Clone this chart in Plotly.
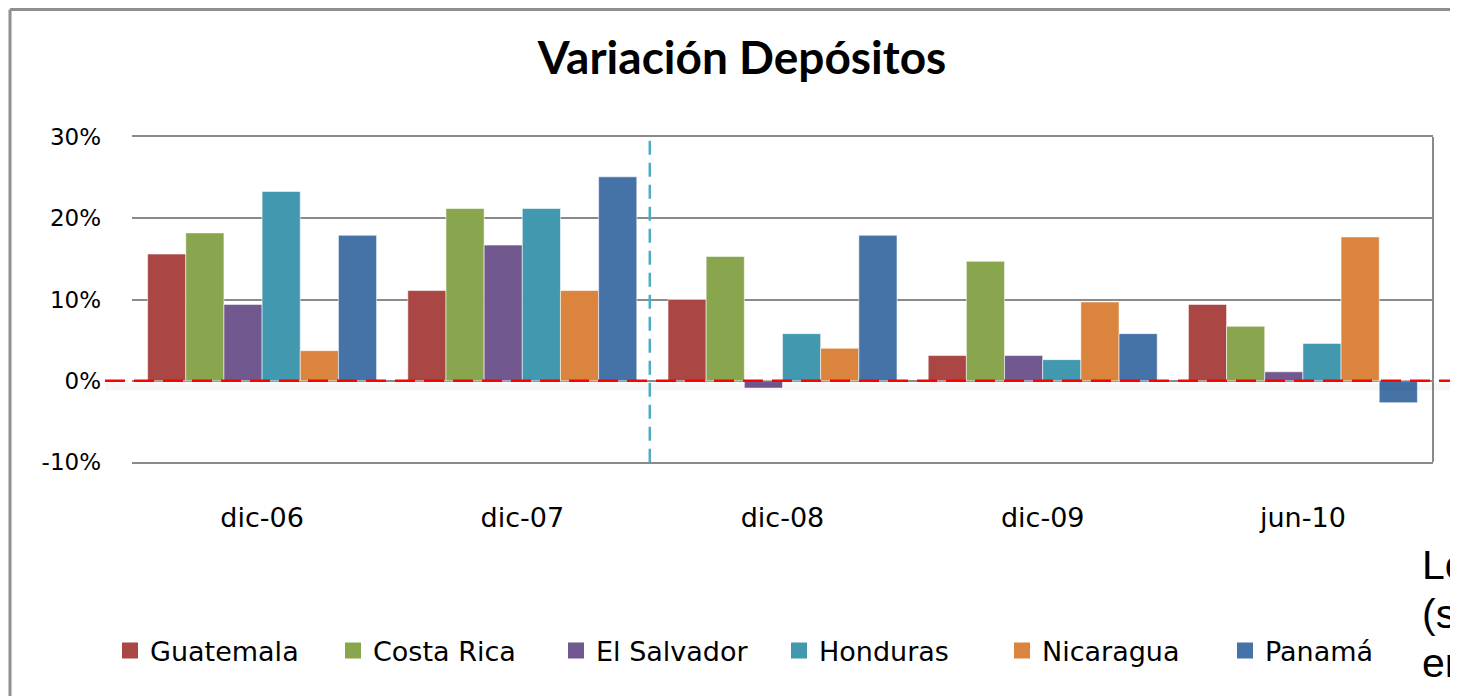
import plotly.graph_objects as go

categories = ["dic-06", "dic-07", "dic-08", "dic-09", "jun-10"]
series_names = ["Guatemala", "Costa Rica", "El Salvador", "Honduras", "Nicaragua", "Panamá"]
guatemala = [15.6, 11.1, 10.0, 3.1, 9.4]
costa_rica = [18.2, 21.2, 15.3, 14.7, 6.7]
el_salvador = [9.4, 16.7, -0.9, 3.1, 1.1]
honduras = [23.3, 21.2, 5.8, 2.6, 4.6]
nicaragua = [3.7, 11.1, 4.0, 9.7, 17.7]
panama = [17.9, 25.1, 17.9, 5.8, -2.7]
y_tick_values = [-10, 0, 10, 20, 30]
y_tick_labels = ["-10%", "0%", "10%", "20%", "30%"]
side_text = ["Lo", "(s", "er"]

series_values = [guatemala, costa_rica, el_salvador, honduras, nicaragua, panama]
colors = ["#AA4643", "#89A54E", "#71588F", "#4198AF", "#DB843D", "#4572A7"]

TITLE_FONT = "Lato"
FONT = "DejaVu Sans"
GRID = "#8a8a8a"

fig = go.Figure()
for name, vals, col in zip(series_names, series_values, colors):
    fig.add_trace(go.Bar(
        x=categories, y=vals, name=name, showlegend=False,
        marker=dict(color=col, line=dict(color="rgba(255,255,255,0.55)", width=1)),
    ))
# legend proxies (square swatches)
for name, col in zip(series_names, colors):
    fig.add_trace(go.Scatter(
        x=[None], y=[None], mode="markers", name=name,
        marker=dict(symbol="square", size=16, color=col),
    ))

W, H = 1458, 696
OFF = 8  # page body margin offset
# plot area in screen pixels: x 132..1433, y 137..462
L = 132 - OFF
T = 137 - OFF
pw = 1301
ph = 325
R = W - L - pw
B = H - T - ph

def px_x(p):
    return (p - 132) / pw

def px_y(p):
    return (462 - p) / ph

shapes = [
    # outer chart frame (left + top)
    dict(type="line", xref="paper", yref="paper", x0=px_x(10), x1=px_x(10), y0=px_y(9.5), y1=px_y(710),
         line=dict(color="#8f8f8f", width=3), layer="above"),
    dict(type="line", xref="paper", yref="paper", x0=px_x(10), x1=px_x(1470), y0=px_y(9.5), y1=px_y(9.5),
         line=dict(color="#8f8f8f", width=3), layer="above"),
    # right border of plot area
    dict(type="line", xref="paper", yref="y", x0=1, x1=1, y0=-10, y1=30,
         line=dict(color=GRID, width=2), layer="below"),
    # soft shadow under zero line
    dict(type="rect", xref="paper", yref="y", x0=px_x(105), x1=px_x(1470), y0=-0.3, y1=-1.2,
         fillcolor="rgba(0,0,0,0.035)", line=dict(width=0), layer="above"),
    # red dashed zero line
    dict(type="line", xref="paper", yref="y", x0=px_x(105), x1=px_x(1470), y0=0, y1=0,
         line=dict(color="#ff0000", width=2.5, dash="20px,9px"), layer="above"),
    # cyan dashed separator
    dict(type="line", xref="x", yref="y", x0=1.49, x1=1.49, y0=-10.1, y1=30.9,
         line=dict(color="#4BACC6", width=2.5, dash="14px,8px"), layer="above"),
]

annotations = []
for i, t in enumerate(side_text):
    annotations.append(dict(
        text=t, xref="paper", yref="paper", x=px_x(1420), y=px_y(565 + 49 * i),
        xanchor="left", yanchor="middle", showarrow=False,
        font=dict(family="Liberation Sans", size=41, color="#000000"),
    ))

fig.update_layout(
    width=W, height=H,
    margin=dict(l=L, r=R, t=T, b=B),
    paper_bgcolor="white", plot_bgcolor="white",
    title=dict(text="<b>Variación Depósitos</b>", x=(742 - OFF) / W, xanchor="center",
               y=1 - (58 - OFF) / H, yanchor="middle",
               font=dict(family=TITLE_FONT, size=46, color="#000000")),
    barmode="group", bargap=0.12, bargroupgap=0,
    shapes=shapes, annotations=annotations,
    legend=dict(orientation="h", x=px_x(110), xanchor="left", y=px_y(651), yanchor="middle",
                font=dict(family=FONT, size=27, color="#000000"),
                entrywidth=178, entrywidthmode="pixels", bgcolor="rgba(0,0,0,0)"),
    xaxis=dict(showgrid=False, showline=True, mirror=True, linecolor=GRID, linewidth=2,
               zeroline=False, ticks="",
               tickfont=dict(family=FONT, size=27, color="#000000"), ticklabelstandoff=31,
               fixedrange=True),
    yaxis=dict(range=[-10, 30], tickvals=y_tick_values, ticktext=y_tick_labels,
               showgrid=True, gridcolor=GRID, gridwidth=2,
               zeroline=True, zerolinecolor=GRID, zerolinewidth=2,
               showline=False, ticks="", ticklabelstandoff=30,
               tickfont=dict(family=FONT, size=23, color="#000000")),
)

fig.write_html("out.html")
